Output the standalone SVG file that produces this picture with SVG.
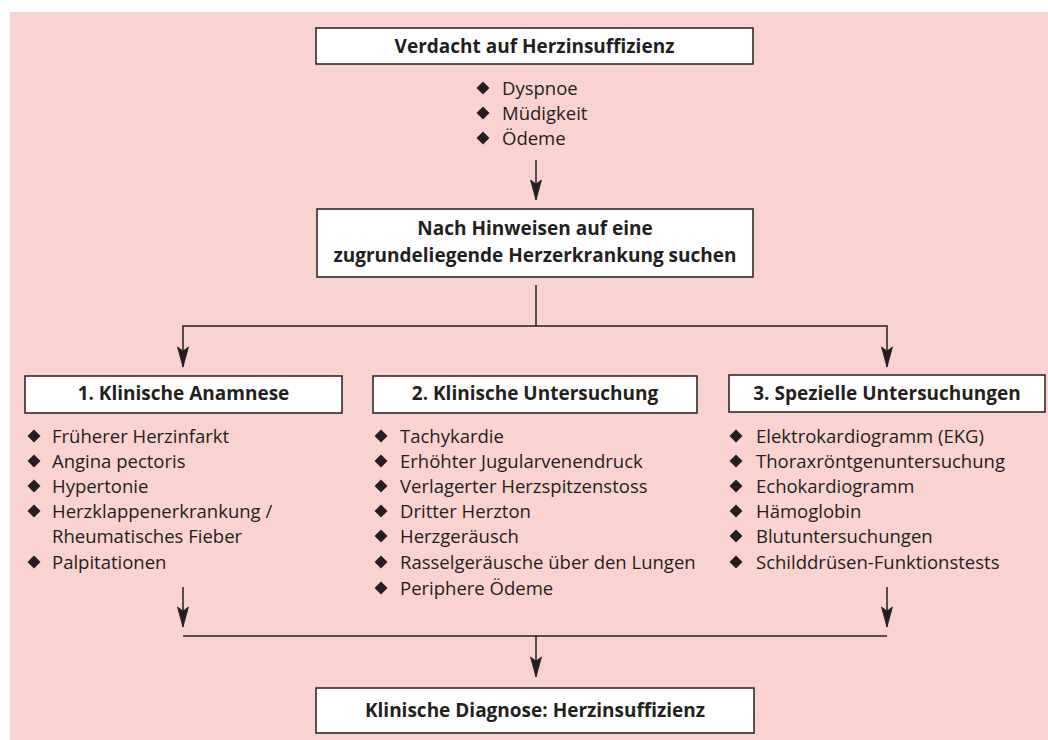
<svg xmlns="http://www.w3.org/2000/svg" width="1048" height="740" viewBox="0 0 1048 740">
<defs>
<style>
.box{fill:#ffffff;stroke:#231f20;stroke-width:1.5}
.t{font-family:"Open Sans","Liberation Sans",sans-serif;font-weight:bold;font-size:19px;fill:#231f20;text-anchor:middle}
.i{font-family:"Open Sans","Liberation Sans",sans-serif;font-size:18.5px;fill:#231f20}
.ln{fill:none;stroke:#231f20;stroke-width:1.5}
.d{fill:#231f20}
.ahp{fill:#231f20;stroke:#231f20;stroke-width:0.8;stroke-linejoin:miter}
</style>
<marker id="ah" markerUnits="userSpaceOnUse" markerWidth="26" markerHeight="16" viewBox="-22 -8 26 16" refX="0" refY="0" orient="auto-start-reverse">
<path class="ahp" d="M0,0 L-20,-5.5 L-16,0 L-20,5.5 Z"/>
</marker>
<path id="dm" d="M0,-6.5 L6.5,0 L0,6.5 L-6.5,0 Z"/>
</defs>
<rect x="10" y="12" width="1038" height="728" fill="#f9d3cf"/>

<g id="connectors">
<line class="ln" x1="536" y1="160" x2="536" y2="200" marker-end="url(#ah)"/>
<polyline class="ln" points="536,285 536,326"/>
<polyline class="ln" points="183,367 183,326 887,326 887,367" marker-start="url(#ah)" marker-end="url(#ah)"/>
<line class="ln" x1="183" y1="587" x2="183" y2="627" marker-end="url(#ah)"/>
<line class="ln" x1="887" y1="587" x2="887" y2="627" marker-end="url(#ah)"/>
<line class="ln" x1="183" y1="636" x2="887" y2="636"/>
<line class="ln" x1="536" y1="636" x2="536" y2="677" marker-end="url(#ah)"/>
</g>

<g id="n-verdacht">
<rect class="box" x="316" y="28" width="437" height="36"/>
<text class="t" x="534.5" y="53">Verdacht auf Herzinsuffizienz</text>
</g>

<g id="n-symptome">
<use href="#dm" class="d" x="483" y="88"/>
<use href="#dm" class="d" x="483" y="113"/>
<use href="#dm" class="d" x="483" y="138"/>
<text class="i" x="502" y="95">Dyspnoe</text>
<text class="i" x="502" y="120">Müdigkeit</text>
<text class="i" x="502" y="145">Ödeme</text>
</g>

<g id="n-hinweise">
<rect class="box" x="317" y="209" width="436" height="68"/>
<text class="t" x="535" y="235">Nach Hinweisen auf eine</text>
<text class="t" x="535" y="262">zugrundeliegende Herzerkrankung suchen</text>
</g>

<g id="n-anamnese">
<rect class="box" x="25" y="376" width="317" height="37"/>
<text class="t" x="183.5" y="400">1. Klinische Anamnese</text>
<use href="#dm" class="d" x="34" y="436"/>
<use href="#dm" class="d" x="34" y="461"/>
<use href="#dm" class="d" x="34" y="486"/>
<use href="#dm" class="d" x="34" y="511"/>
<use href="#dm" class="d" x="34" y="562"/>
<text class="i" x="52" y="443">Früherer Herzinfarkt</text>
<text class="i" x="52" y="468">Angina pectoris</text>
<text class="i" x="52" y="493">Hypertonie</text>
<text class="i" x="52" y="518">Herzklappenerkrankung /</text>
<text class="i" x="52" y="543">Rheumatisches Fieber</text>
<text class="i" x="52" y="569">Palpitationen</text>
</g>

<g id="n-untersuchung">
<rect class="box" x="373" y="376" width="324" height="37"/>
<text class="t" x="535" y="400">2. Klinische Untersuchung</text>
<use href="#dm" class="d" x="381" y="436"/>
<use href="#dm" class="d" x="381" y="461"/>
<use href="#dm" class="d" x="381" y="486"/>
<use href="#dm" class="d" x="381" y="511"/>
<use href="#dm" class="d" x="381" y="536"/>
<use href="#dm" class="d" x="381" y="562"/>
<use href="#dm" class="d" x="381" y="588"/>
<text class="i" x="400" y="443">Tachykardie</text>
<text class="i" x="400" y="468">Erhöhter Jugularvenendruck</text>
<text class="i" x="400" y="493">Verlagerter Herzspitzenstoss</text>
<text class="i" x="400" y="518">Dritter Herzton</text>
<text class="i" x="400" y="543">Herzgeräusch</text>
<text class="i" x="400" y="569">Rasselgeräusche über den Lungen</text>
<text class="i" x="400" y="595">Periphere Ödeme</text>
</g>

<g id="n-spezielle">
<rect class="box" x="729" y="375" width="316" height="37"/>
<text class="t" x="887" y="400">3. Spezielle Untersuchungen</text>
<use href="#dm" class="d" x="736" y="436"/>
<use href="#dm" class="d" x="736" y="461"/>
<use href="#dm" class="d" x="736" y="486"/>
<use href="#dm" class="d" x="736" y="511"/>
<use href="#dm" class="d" x="736" y="536"/>
<use href="#dm" class="d" x="736" y="562"/>
<text class="i" x="756" y="443">Elektrokardiogramm (EKG)</text>
<text class="i" x="756" y="468">Thoraxröntgenuntersuchung</text>
<text class="i" x="756" y="493">Echokardiogramm</text>
<text class="i" x="756" y="518">Hämoglobin</text>
<text class="i" x="756" y="543">Blutuntersuchungen</text>
<text class="i" x="756" y="569">Schilddrüsen-Funktionstests</text>
</g>

<g id="n-diagnose">
<rect class="box" x="316" y="688" width="438" height="45"/>
<text class="t" x="535" y="717">Klinische Diagnose: Herzinsuffizienz</text>
</g>
</svg>
